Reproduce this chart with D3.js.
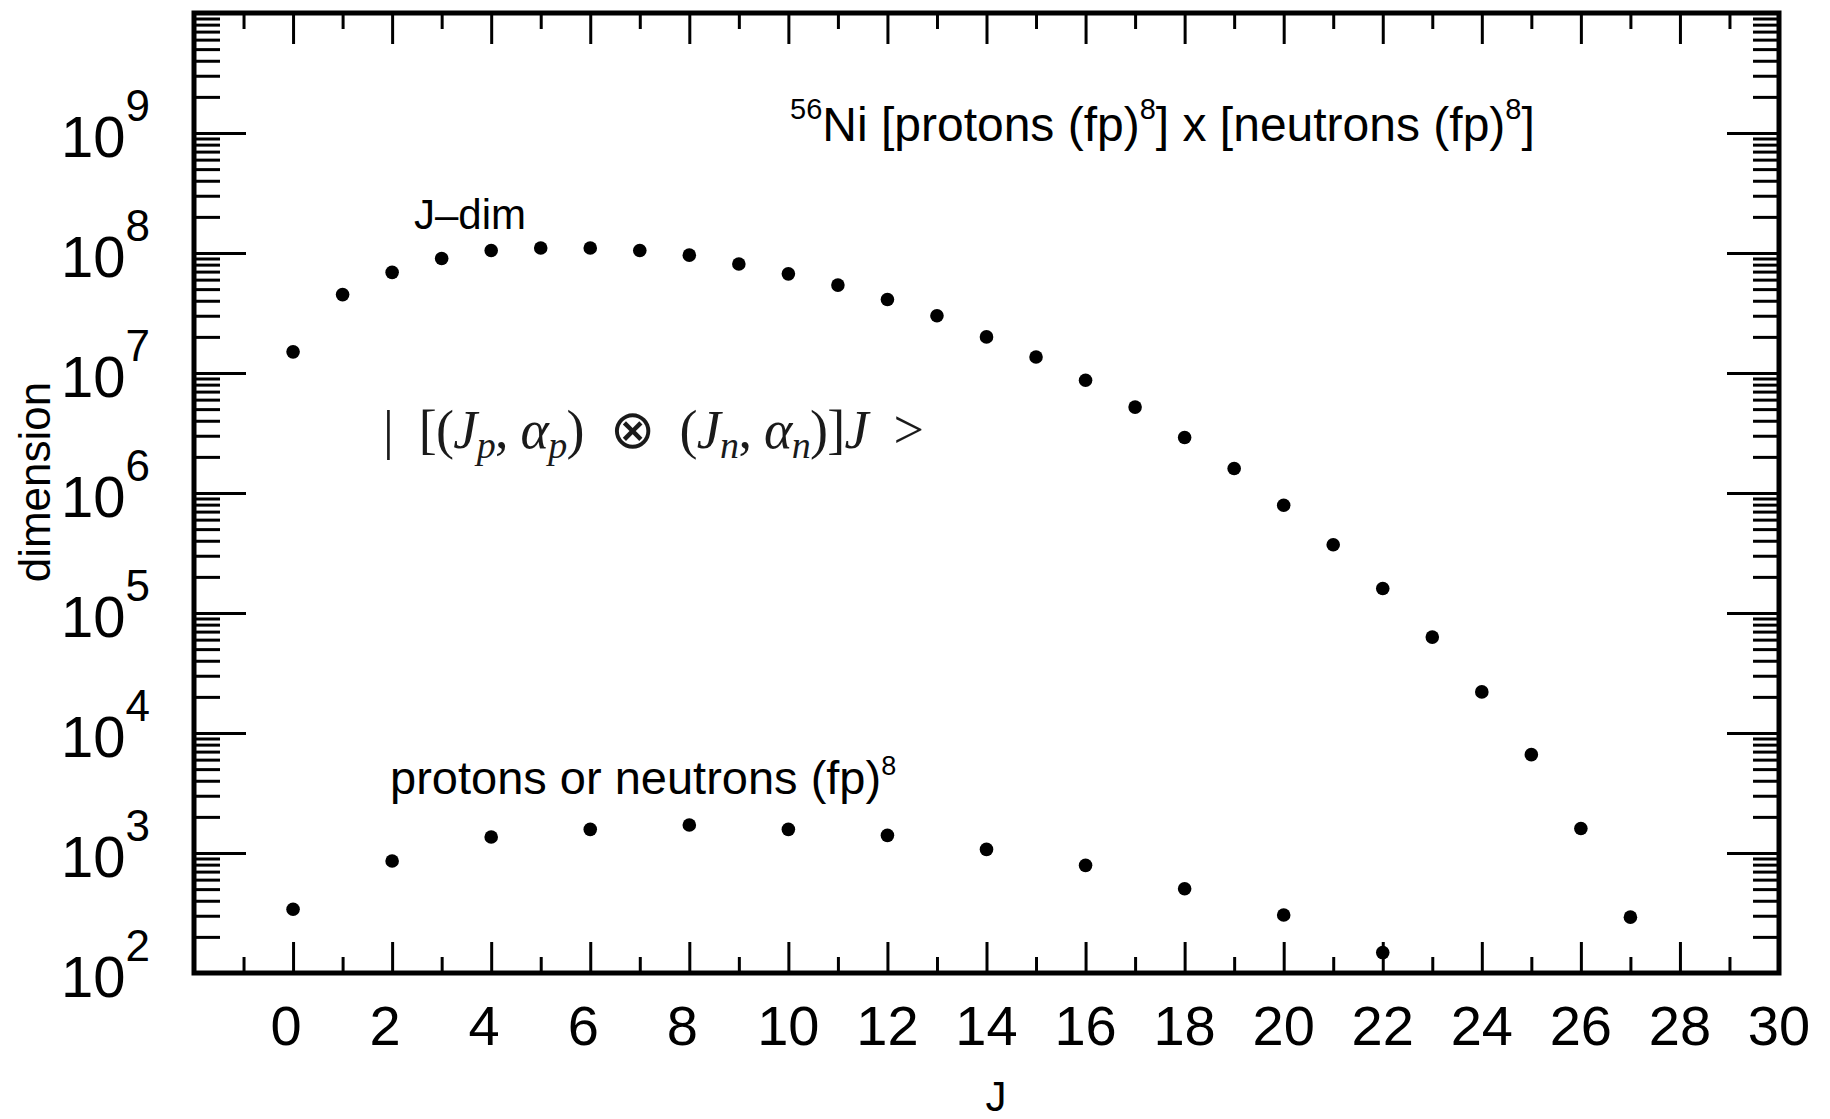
<!DOCTYPE html>
<html lang="en">
<head>
    <meta charset="UTF-8">
    <title>56Ni dimensions</title>
    <script src="https://d3js.org/d3.v7.min.js"></script>
    <style>
        body {
            margin: 0;
            background-color: white;
        }
        text {
            font-family: "Liberation Sans", Arial, sans-serif;
            fill: black;
        }
        .tick line {
            stroke: black;
            stroke-width: 3;
        }
        text.formula {
            font-family: "Liberation Serif", "DejaVu Serif", serif;
        }
        tspan.otimes {
            font-family: "DejaVu Sans ExtraLight", "DejaVu Sans", sans-serif;
            font-weight: 200;
        }
    </style>
</head>
<body>
<svg id="viz"></svg>
<script>
    // J-scheme dimension of 56Ni, J = 0..27
    var jdimJ = [0, 1, 2, 3, 4, 5, 6, 7, 8, 9, 10, 11, 12, 13, 14, 15, 16, 17, 18, 19, 20, 21, 22, 23, 24, 25, 26, 27];
    var jdimValues = [1.5e7, 4.5e7, 6.9e7, 9.0e7, 1.05e8, 1.1e8, 1.1e8, 1.05e8, 9.6e7, 8.1e7, 6.7e7, 5.4e7,
        4.1e7, 3.0e7, 2.0e7, 1.36e7, 8.7e6, 5.2e6, 2.9e6, 1.6e6, 7.9e5, 3.7e5, 1.6e5, 6.3e4,
        2.2e4, 6.6e3, 1.6e3, 292];

    // protons or neutrons (fp)^8, even J only
    var protJ = [0, 2, 4, 6, 8, 10, 12, 14, 16, 18, 20, 22];
    var protValues = [340, 858, 1360, 1575, 1711, 1575, 1403, 1072, 789, 503, 304, 148];

    var xTickLabels = [0, 2, 4, 6, 8, 10, 12, 14, 16, 18, 20, 22, 24, 26, 28, 30];
    var yTickExponents = [2, 3, 4, 5, 6, 7, 8, 9];

    var width = 1830, height = 1119;
    var plotLeft = 194, plotRight = 1779, plotTop = 13, plotBottom = 973;

    var svg = d3.select("#viz")
        .attr("width", width)
        .attr("height", height);

    svg.append("rect")
        .attr("width", width)
        .attr("height", height)
        .attr("fill", "white");

    var xScale = d3.scaleLinear()
        .domain([-2, 30])
        .range([plotLeft, plotRight]);

    var yScale = d3.scaleLog()
        .domain([1e2, 1e10])
        .range([plotBottom, plotTop]);

    // tick values
    var xMajor = d3.range(0, 30, 2);
    var xMinor = d3.range(-1, 30, 2);
    var yMajor = d3.range(3, 10).map(function (e) { return Math.pow(10, e); });
    var yMinor = [];
    d3.range(2, 10).forEach(function (e) {
        d3.range(2, 10).forEach(function (k) {
            yMinor.push(k * Math.pow(10, e));
        });
    });

    function addAxis(axis, tx, ty) {
        var g = svg.append("g")
            .attr("transform", "translate(" + tx + "," + ty + ")")
            .call(axis.tickSizeOuter(0).tickFormat(""));
        g.select(".domain").remove();
        return g;
    }

    // inward ticks on all four sides
    addAxis(d3.axisBottom(xScale).tickValues(xMajor).tickSize(-31), 0, plotBottom);
    addAxis(d3.axisBottom(xScale).tickValues(xMinor).tickSize(-16), 0, plotBottom);
    addAxis(d3.axisTop(xScale).tickValues(xMajor).tickSize(-31), 0, plotTop);
    addAxis(d3.axisTop(xScale).tickValues(xMinor).tickSize(-16), 0, plotTop);
    addAxis(d3.axisLeft(yScale).tickValues(yMajor).tickSize(-52), plotLeft, 0);
    addAxis(d3.axisLeft(yScale).tickValues(yMinor).tickSize(-26), plotLeft, 0);
    addAxis(d3.axisRight(yScale).tickValues(yMajor).tickSize(-52), plotRight, 0);
    addAxis(d3.axisRight(yScale).tickValues(yMinor).tickSize(-26), plotRight, 0);

    // frame
    svg.append("rect")
        .attr("x", plotLeft)
        .attr("y", plotTop)
        .attr("width", plotRight - plotLeft)
        .attr("height", plotBottom - plotTop)
        .attr("fill", "none")
        .attr("stroke", "black")
        .attr("stroke-width", 5);

    // x tick labels
    svg.append("g").selectAll("text")
        .data(xTickLabels)
        .enter()
        .append("text")
        .attr("x", function (d) { return xScale(d) - (d < 10 ? 7 : 0); })
        .attr("y", 1045)
        .attr("text-anchor", "middle")
        .attr("font-size", 56)
        .text(function (d) { return d; });

    // y tick labels 10^n
    var yLab = svg.append("g").selectAll("text")
        .data(yTickExponents)
        .enter()
        .append("text")
        .attr("x", 150)
        .attr("y", function (d) { return yScale(Math.pow(10, d)) + 24; })
        .attr("text-anchor", "end");
    yLab.append("tspan")
        .attr("font-size", 58)
        .text("10");
    yLab.append("tspan")
        .attr("font-size", 44)
        .attr("dy", -36)
        .text(function (d) { return d; });

    // axis titles
    svg.append("text")
        .attr("x", 996)
        .attr("y", 1111)
        .attr("text-anchor", "middle")
        .attr("font-size", 42)
        .text("J");

    svg.append("text")
        .attr("transform", "translate(50,482) rotate(-90)")
        .attr("text-anchor", "middle")
        .attr("font-size", 44)
        .text("dimension");

    // points
    svg.append("g").selectAll("circle")
        .data(jdimJ)
        .enter()
        .append("circle")
        .attr("cx", function (d) { return xScale(d); })
        .attr("cy", function (d, i) { return yScale(jdimValues[i]); })
        .attr("r", 6.8)
        .attr("fill", "black");

    svg.append("g").selectAll("circle")
        .data(protJ)
        .enter()
        .append("circle")
        .attr("cx", function (d) { return xScale(d); })
        .attr("cy", function (d, i) { return yScale(protValues[i]); })
        .attr("r", 6.8)
        .attr("fill", "black");

    // annotations
    var title = svg.append("text")
        .attr("x", 790)
        .attr("y", 141)
        .attr("font-size", 48);
    title.append("tspan").attr("font-size", 29).attr("dy", -22).text("56");
    title.append("tspan").attr("dy", 22).text("Ni [protons (fp)");
    title.append("tspan").attr("font-size", 29).attr("dy", -22).text("8");
    title.append("tspan").attr("dy", 22).text("] x [neutrons (fp)");
    title.append("tspan").attr("font-size", 29).attr("dy", -22).text("8");
    title.append("tspan").attr("dy", 22).text("]");

    svg.append("text")
        .attr("x", 414)
        .attr("y", 229)
        .attr("font-size", 42)
        .text("J\u2013dim");

    var prot = svg.append("text")
        .attr("x", 390)
        .attr("y", 794)
        .attr("font-size", 47);
    prot.append("tspan").text("protons or neutrons (fp)");
    prot.append("tspan").attr("font-size", 27).attr("dy", -19).text("8");

    // | [(J_p, a_p) x (J_n, a_n)]J >
    var formula = svg.append("text")
        .attr("class", "formula")
        .attr("x", 383)
        .attr("y", 448)
        .attr("font-size", 54)
        .attr("textLength", 541)
        .attr("lengthAdjust", "spacing")
        .style("fill", "#1a1a1a");
    var parts = [
        ["|  [(", "normal", 0],
        ["J", "italic", 0],
        ["p", "italic", 1],
        [", ", "normal", -1],
        ["\u03b1", "italic", 0],
        ["p", "italic", 1],
        [")  ", "normal", -1],
        ["\u2297", "otimes", 0],
        ["  (", "normal", 0],
        ["J", "italic", 0],
        ["n", "italic", 1],
        [", ", "normal", -1],
        ["\u03b1", "italic", 0],
        ["n", "italic", 1],
        [")]", "normal", -1],
        ["J", "italic", 0],
        ["  >", "normal", 0]
    ];
    parts.forEach(function (p) {
        var t = formula.append("tspan")
            .style("white-space", "pre")
            .text(p[0]);
        if (p[1] === "otimes") {
            t.attr("class", "otimes");
        } else {
            t.attr("font-style", p[1]);
        }
        if (p[2] === 1) {
            t.attr("dy", 10).attr("font-size", 38);
        } else if (p[2] === -1) {
            t.attr("dy", -10);
        }
    });
</script>
</body>
</html>
